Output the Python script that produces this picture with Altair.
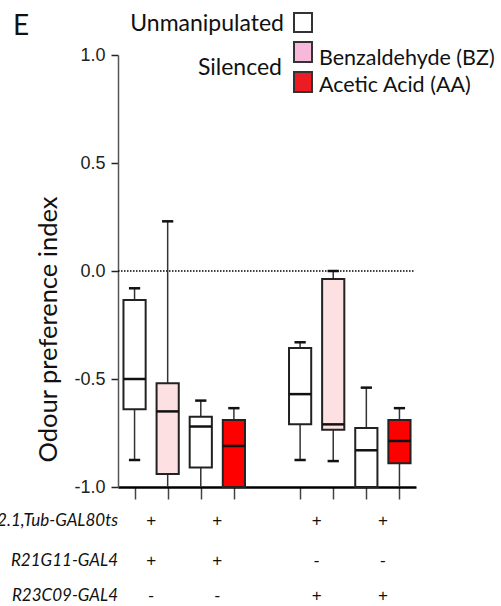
import altair as alt
import pandas as pd

# ---- data ----
positions = [0, 1, 2, 3, 5, 6, 7, 8]
box_kind = ["Unmanipulated", "BZ", "Unmanipulated", "AA",
            "Unmanipulated", "BZ", "Unmanipulated", "AA"]
whisker_low = [-0.875, -1.0, -1.0, -1.0, -0.875, -0.88, -1.0, -1.0]
q1 = [-0.64, -0.94, -0.91, -1.0, -0.71, -0.735, -1.0, -0.89]
median = [-0.50, -0.65, -0.72, -0.81, -0.57, -0.71, -0.83, -0.787]
q3 = [-0.134, -0.52, -0.675, -0.69, -0.357, -0.037, -0.727, -0.69]
whisker_high = [-0.08, 0.23, -0.60, -0.635, -0.33, 0.0, -0.54, -0.635]

kinds = ["Unmanipulated", "BZ", "AA"]
kind_fill = ["#FFFFFF", "#FDE0E2", "#FF0000"]

genotype_rows = ["UAS-Kir2.1,Tub-GAL80ts", "R21G11-GAL4", "R23C09-GAL4"]
pair_positions = [0.5, 2.5, 5.5, 7.5]
row1_signs = ["+", "+", "+", "+"]
row2_signs = ["+", "+", "-", "-"]
row3_signs = ["-", "-", "+", "+"]

y_ticks = [-1.0, -0.5, 0.0, 0.5, 1.0]

df = pd.DataFrame({
    "pos": positions, "kind": box_kind, "wl": whisker_low, "q1": q1,
    "med": median, "q3": q3, "wh": whisker_high,
})

W, H = 298, 432
xs = alt.Scale(domain=[-0.5, 8.5], nice=False, zero=False)
ys = alt.Scale(domain=[-1.0, 1.0], nice=False, zero=False)
fill_scale = alt.Scale(domain=kinds, range=kind_fill)

base = alt.Chart(df).transform_calculate(
    xlo="datum.pos - 0.335", xhi="datum.pos + 0.335",
    clo="datum.pos - 0.17", chi="datum.pos + 0.17",
)

X = alt.X("pos:Q", scale=xs, axis=alt.Axis(
    values=positions, labels=False, title=None, grid=False,
    domainColor="#000000", domainWidth=2.5, tickColor="#444444",
    tickWidth=1.5, tickSize=12))
Y = alt.Y("q1:Q", scale=ys, axis=alt.Axis(
    values=y_ticks, grid=False, title="Odour preference index",
    labelExpr="replace(format(datum.value, '.1f'), '\u2212', '-')",
    labelFont="Liberation Sans", labelFontSize=18, labelColor="#222222",
    labelPadding=6, tickColor="#222222", tickSize=7, tickWidth=1.5,
    domainColor="#555555", domainWidth=1.5,
    titleFont="Lato", titleFontSize=25.5, titleFontWeight="normal",
    titleColor="#111111", titleAngle=270, titleX=-70, titleY=274,
    titleBaseline="middle", titleAlign="center"))

zero_line = alt.Chart(pd.DataFrame({"v": [0.0]})).mark_rule(
    color="#000000", strokeWidth=1.5, strokeDash=[1.5, 1.5]
).encode(
    y=alt.Y("v:Q", scale=ys),
    x=alt.value(0), x2=alt.value(W - 2),
)

whisk_lo = base.mark_rule(color="#333333", strokeWidth=1.5).encode(
    x=X, y=alt.Y("wl:Q", scale=ys), y2="q1:Q")
whisk_hi = base.mark_rule(color="#333333", strokeWidth=1.5).encode(
    x=alt.X("pos:Q", scale=xs), y=alt.Y("q3:Q", scale=ys), y2="wh:Q")

boxes = base.mark_rect(stroke="#222222", strokeWidth=2).encode(
    x=alt.X("xlo:Q", scale=xs), x2="xhi:Q",
    y=Y, y2="q3:Q",
    fill=alt.Fill("kind:N", scale=fill_scale, legend=None),
)
medians = base.mark_rule(color="#111111", strokeWidth=2.5).encode(
    x=alt.X("xlo:Q", scale=xs), x2="xhi:Q", y=alt.Y("med:Q", scale=ys))

cap_hi = base.mark_rule(color="#111111", strokeWidth=2.5).encode(
    x=alt.X("clo:Q", scale=xs), x2="chi:Q", y=alt.Y("wh:Q", scale=ys))
cap_lo = base.transform_filter("datum.wl > -1").mark_rule(
    color="#111111", strokeWidth=2.5).encode(
    x=alt.X("clo:Q", scale=xs), x2="chi:Q", y=alt.Y("wl:Q", scale=ys))

# genotype table below the axis
signs_df = pd.DataFrame({
    "p": pair_positions * 3,
    "row": [0] * 4 + [1] * 4 + [2] * 4,
    "s": row1_signs + row2_signs + row3_signs,
})
row_y = [466, 506, 541]
sign_layers = []
for r in range(3):
    sign_layers.append(
        alt.Chart(signs_df).transform_filter(f"datum.row == {r}").mark_text(
            font="Liberation Sans", fontSize=17, color="#111111",
            baseline="middle", align="center"
        ).encode(x=alt.X("p:Q", scale=xs), y=alt.value(row_y[r]), text="s:N")
    )
row_layers = []
for r, lab in enumerate(genotype_rows):
    row_layers.append(
        alt.Chart(pd.DataFrame({"t": [lab]})).mark_text(
            font="Lato", fontSize=17, fontStyle="italic", color="#111111",
            align="right", baseline="middle"
        ).encode(x=alt.value(0), y=alt.value(row_y[r]), text="t:N")
    )

one = pd.DataFrame({"a": [0]})

def txt(s, x, y, align, size=23, font="Lato"):
    return alt.Chart(one).mark_text(
        text=s, font=font, fontSize=size, color="#111111",
        align=align, baseline="middle"
    ).encode(x=alt.value(x), y=alt.value(y))

def sq(x0, y0, y1, color):
    return alt.Chart(one).mark_rect(
        fill=color, stroke="#333333", strokeWidth=2
    ).encode(x=alt.value(x0), x2=alt.value(x0 + 18), y=alt.value(y0), y2=alt.value(y1))

legend = [
    txt("Unmanipulated", 166, -31, "right"),
    sq(176, -42, -23, "#FFFFFF"),
    txt("Silenced", 164, 13, "right"),
    sq(176, -13, 7, "#F7B8DA"),
    sq(176, 17, 37, "#ED1C24"),
    txt("Benzaldehyde (BZ)", 201, 4, "left", size=21.5),
    txt("Acetic Acid (AA)", 201, 31, "left", size=21.5),
    txt("E", -105, -28, "left", size=28),
]

chart = alt.layer(
    zero_line, whisk_lo, whisk_hi, boxes, medians, cap_hi, cap_lo,
    *sign_layers, *row_layers, *legend
).properties(
    width=W, height=H,
    autosize=alt.AutoSizeParams(type="none"),
    padding={"left": 118, "top": 55, "right": 85, "bottom": 119},
).configure(background="#FFFFFF").configure_view(stroke=None)

chart.save("out.html", embed_options={"renderer": "svg", "actions": False})
